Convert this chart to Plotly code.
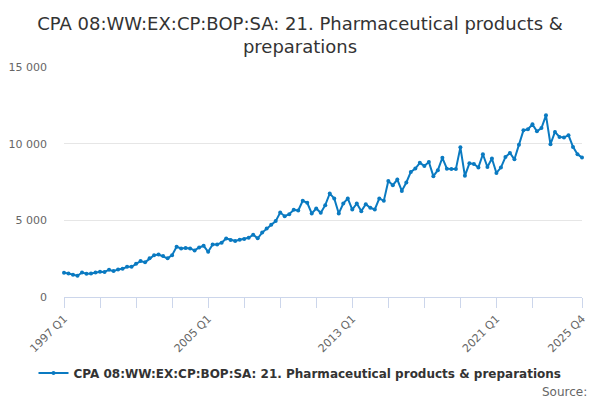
import plotly.graph_objects as go

years = list(range(1997, 2026))
quarters = [f"{y} Q{q}" for y in years for q in range(1, 5)]

values = [
    1580, 1540, 1450, 1390, 1600, 1520, 1540, 1600, 1650, 1630,
    1780, 1690, 1800, 1840, 1970, 1970, 2170, 2340, 2260, 2520,
    2730, 2770, 2670, 2520, 2730, 3280, 3170, 3200, 3170, 3040,
    3230, 3340, 2950, 3430, 3430, 3540, 3820, 3710, 3650, 3730,
    3780, 3860, 4060, 3830, 4200, 4470, 4710, 4950, 5510, 5270,
    5400, 5690, 5640, 6270, 6140, 5450, 5770, 5490, 5990, 6750,
    6430, 5450, 6100, 6430, 5700, 6100, 5600, 6050, 5820, 5710,
    6430, 6270, 7570, 7290, 7660, 6920, 7470, 8160, 8380, 8750,
    8550, 8810, 7880, 8270, 9080, 8370, 8340, 8340, 9760, 7900,
    8720, 8680, 8450, 9310, 8480, 9030, 8090, 8440, 9130, 9390,
    8980, 9930, 10870, 10940, 11260, 10810, 11020, 11850, 9960, 10760,
    10440, 10400, 10550, 9790, 9310, 9090,
]

series_name = "CPA 08:WW:EX:CP:BOP:SA: 21. Pharmaceutical products & preparations"
title_text = "CPA 08:WW:EX:CP:BOP:SA: 21. Pharmaceutical products &<br>preparations"

tick_positions = list(range(0, 105, 8)) + [len(quarters) - 1]
labelled = {"1997 Q1", "2005 Q1", "2013 Q1", "2021 Q1", "2025 Q4"}
tick_vals = [quarters[i] for i in tick_positions]
tick_text = [q if q in labelled else "" for q in tick_vals]

y_ticks = [0, 5000, 10000, 15000]
y_text = ["0", "5 000", "10 000", "15 000"]

FONT = "DejaVu Sans, Verdana, sans-serif"

fig = go.Figure()
fig.add_trace(go.Scatter(
    x=quarters, y=values, mode="lines+markers", name=series_name,
    line=dict(color="#0a7ac1", width=2),
    marker=dict(color="#0a7ac1", size=4),
    cliponaxis=False,
))

fig.update_layout(
    width=600, height=400,
    paper_bgcolor="white", plot_bgcolor="white",
    margin=dict(l=56, r=26, t=59, b=111, autoexpand=False),
    font=dict(family=FONT, color="#333333"),
    title=dict(text=title_text, x=0.4867, xanchor="center",
               yref="container", y=0.945, yanchor="middle",
               font=dict(size=18, color="#333333", family=FONT)),
    showlegend=True,
    legend=dict(orientation="h", x=0.4556, xanchor="center",
                yref="container", y=0.0875, yanchor="middle",
                font=dict(size=12, color="#333333", weight="bold", family=FONT)),
    xaxis=dict(
        type="category", range=[0, len(quarters) - 1], automargin=False,
        tickmode="array", tickvals=tick_vals, ticktext=tick_text,
        tickangle=-45, ticks="outside", ticklen=10, tickcolor="#ccd6eb",
        showline=True, linecolor="#ccd6eb", linewidth=1,
        showgrid=False, zeroline=False,
        tickfont=dict(size=11, color="#666666", family=FONT),
    ),
    yaxis=dict(
        range=[0, 15000], automargin=False,
        tickmode="array", tickvals=y_ticks, ticktext=y_text,
        showgrid=True, gridcolor="#e6e6e6", zeroline=False,
        showline=False, ticks="", ticklabelstandoff=16,
        tickfont=dict(size=11, color="#666666", family=FONT),
    ),
    annotations=[dict(text="Source:", xref="paper", yref="paper",
                      x=1.0135, y=-0.413, xanchor="right", yanchor="middle",
                      showarrow=False, font=dict(size=12, color="#666666", family=FONT))],
)

fig.write_html("out.html")
